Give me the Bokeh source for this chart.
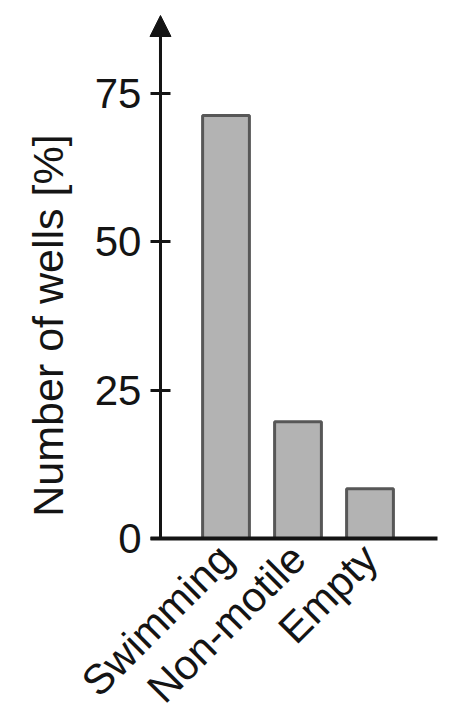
from math import pi

from bokeh.plotting import figure
from bokeh.models import Range1d, Label, Arrow, NormalHead, FixedTicker
from bokeh.embed import file_html
from bokeh.resources import INLINE

categories = ["Swimming", "Non-motile", "Empty"]
wells_pct = [71.3, 19.7, 8.4]
y_ticks = [0, 25, 50, 75]
y_label = "Number of wells [%]"

FONT = "Liberation Sans"
INK = "#141414"

# the frame fills the whole canvas; axes are pinned inside it
Y_TOP = 88.15          # tip of the y arrow
Y_AXIS_X = -0.91       # where the y axis stands (bar slots are 0, 1, 2)
X_AXIS_END = 2.94

xs = list(range(len(categories)))

p = figure(
    width=459, height=716,
    x_range=Range1d(-3.132, 3.243),
    y_range=Range1d(-30.0, 90.68),
    output_backend="svg", toolbar_location=None,
    min_border=0,
)
p.outline_line_color = None
p.grid.visible = False

p.vbar(x=xs, top=wells_pct, width=0.65,
       fill_color="#b3b3b3", line_color="#575757", line_width=3)

# y axis, ticks crossing the line
p.yaxis.fixed_location = Y_AXIS_X
p.yaxis.bounds = (0, Y_TOP - 2)
p.yaxis.ticker = FixedTicker(ticks=y_ticks)
p.yaxis.axis_line_width = 3
p.yaxis.axis_line_color = INK
p.yaxis.major_tick_in = 10
p.yaxis.major_tick_out = 10
p.yaxis.major_tick_line_width = 3
p.yaxis.major_tick_line_color = INK
p.yaxis.minor_tick_line_color = None
p.yaxis.major_label_text_font = FONT
p.yaxis.major_label_text_font_size = "42px"
p.yaxis.major_label_text_color = INK
p.yaxis.major_label_standoff = 9

# x axis along y = 0
p.xaxis.fixed_location = 0
p.xaxis.bounds = (Y_AXIS_X - 0.139, X_AXIS_END)
p.xaxis.ticker = FixedTicker(ticks=xs)
p.xaxis.major_label_overrides = {i: c for i, c in zip(xs, categories)}
p.xaxis.axis_line_width = 4
p.xaxis.axis_line_color = INK
p.xaxis.major_tick_line_color = None
p.xaxis.minor_tick_line_color = None
p.xaxis.major_tick_in = 0
p.xaxis.major_tick_out = 0
p.xaxis.major_label_orientation = pi / 4
p.xaxis.major_label_text_font = FONT
p.xaxis.major_label_text_font_size = "42px"
p.xaxis.major_label_text_color = INK
p.xaxis.major_label_standoff = 13

# arrow head on top of the y axis
p.add_layout(Arrow(end=NormalHead(size=21, fill_color=INK, fill_alpha=1.0,
                                  line_color=INK, line_width=1),
                   x_start=Y_AXIS_X, y_start=80, x_end=Y_AXIS_X, y_end=Y_TOP,
                   line_color=INK, line_width=3))

p.add_layout(Label(x=-2.479, y=35.9,
                   text=y_label, angle=pi / 2, text_align="center", text_baseline="middle",
                   text_font=FONT, text_font_size="43px", text_color=INK))

open("out.html", "w").write(file_html(p, INLINE))
